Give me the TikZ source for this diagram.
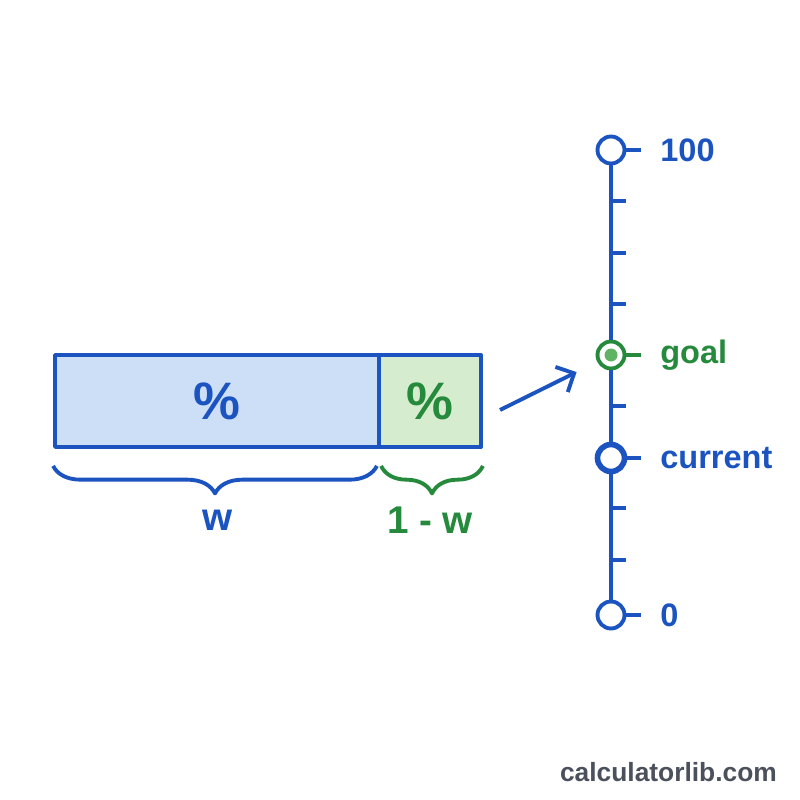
\documentclass[tikz,border=0pt]{standalone}
\usepackage{fontspec}
\setmainfont{Liberation Sans}
\usetikzlibrary{arrows.meta,decorations.pathreplacing}
\definecolor{barblue}{RGB}{27,84,192}
\definecolor{bluefill}{RGB}{205,222,247}
\definecolor{goalgreen}{RGB}{38,138,60}
\definecolor{greenfill}{RGB}{214,236,207}
\definecolor{dotgreen}{RGB}{96,178,100}
\definecolor{markgray}{RGB}{74,80,92}

\begin{document}
\begin{tikzpicture}[x=0.02cm, y=-0.02cm, line join=round]
        \tikzset{part/.style={
            draw = barblue,
            line width = 2.2pt,
            fill = #1,
            minimum height = 1.84cm,
            inner sep = 0pt,
            font = \fontsize{30}{34}\selectfont\bfseries,
        }}
        \tikzset{stop/.style={
            circle,
            draw = #1,
            line width = 2.2pt,
            fill = white,
            minimum size = 0.54cm,
            inner sep = 0pt,
        }}
        \tikzset{lbl/.style={
            anchor = west,
            text = #1,
            inner xsep = 0.38cm,
            inner ysep = 0pt,
            font = \fontsize{18.5}{21}\selectfont\bfseries,
        }}
        \tikzset{bracket/.style={
            draw = #1,
            line width = 2.2pt,
            decorate,
            decoration = {brace, amplitude = 0.55cm},
        }}
        \tikzset{axis/.style={barblue, line width = 2.2pt}}
        \useasboundingbox[fill = white] (0,0) rectangle (800,800);

        % split bar
        \node[part = bluefill, minimum width = 6.48cm, text = barblue] (wpart) at (217,401) {\%};
        \node[part = greenfill, minimum width = 2.04cm, text = goalgreen] (restpart) at (430,401) {\%};

        \draw[bracket = barblue] ([xshift = -0.08cm, yshift = -0.34cm]wpart.south east) -- ([yshift = -0.34cm]wpart.south west);
        \draw[bracket = goalgreen] ([yshift = -0.34cm]restpart.south east) -- ([xshift = 0.08cm, yshift = -0.34cm]restpart.south west);
        \node[text = barblue, font = \fontsize{22}{24}\selectfont\bfseries] (wlab) at (218,520) {w};
        \node[text = goalgreen, font = \fontsize{22}{24}\selectfont\bfseries] (restlab) at (430,520) {1 - w};

        % scale on the right
        \node[stop = barblue] (top) at (611,150) {};
        \node[stop = goalgreen] (goal) at (611,355) {};
        \node[stop = barblue, line width = 3.2pt] (current) at (611,458) {};
        \node[stop = barblue] (zero) at (611,615) {};
        \node[circle, fill = dotgreen, minimum size = 0.26cm, inner sep = 0pt] (goaldot) at (goal) {};

        \draw[axis] (top) -- (goal);
        \draw[axis] (goal) -- (current);
        \draw[axis] (current) -- (zero);
        \foreach \y in {201,253,304,406,508,560}
            \draw[axis] (611,\y) -- ++(15,0);

        \node[lbl = barblue] (l100) at (641,150) {100};
        \node[lbl = goalgreen] (lgoal) at (641,355) {goal};
        \node[lbl = barblue] (lcurrent) at (641,458) {current};
        \node[lbl = barblue] (lzero) at (641,615) {0};
        \draw[axis] (top.east) -- (l100.west);
        \draw[axis, goalgreen] (goal.east) -- (lgoal.west);
        \draw[axis] (current.east) -- (lcurrent.west);
        \draw[axis] (zero.east) -- (lzero.west);

        \coordinate (from) at (500,410);
        \draw[axis, -{Straight Barb[length = 0.28cm, width = 0.56cm]}, shorten > = 0.46cm] (from) -- (goal);

        \node[anchor = east, text = markgray, font = \fontsize{15}{17}\selectfont\bfseries] (site) at (783,772) {calculatorlib.com};
    \end{tikzpicture}
\end{document}
